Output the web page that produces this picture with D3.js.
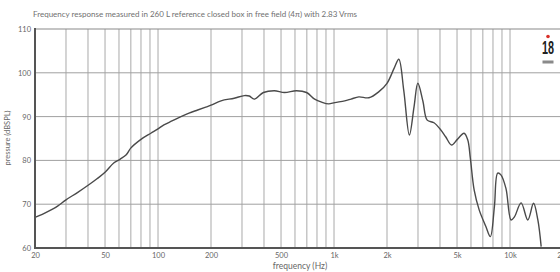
<!DOCTYPE html>
<html>
<head>
<meta charset="utf-8">
<script src="https://cdn.jsdelivr.net/npm/d3@7"></script>
<style>
  body { margin: 0; background: #fff; }
  svg { display: block; font-family: Lato, "Open Sans", sans-serif; }
</style>
</head>
<body>
<script>
var title = "Frequency response measured in 260 L reference closed box in free field (4\u03c0) with 2.83 Vrms";
var xLabel = "frequency (Hz)";
var yLabel = "pressure (dBSPL)";

// measured curve
var freqHz = [20, 22, 25, 27, 30, 35, 41, 45, 50, 56, 61, 66, 70, 80, 91, 100, 108, 120, 135, 150,
  168, 185, 200, 228, 271, 309, 330, 352, 397, 458, 523, 612, 698, 776, 850, 933, 1010, 1150, 1250,
  1384, 1578, 1800, 2000, 2194, 2334, 2490, 2680, 2850, 2994, 3200, 3384, 3698, 4034, 4308, 4658,
  5020, 5480, 5750, 5950, 6258, 6680, 7292, 7730, 8150, 8510, 8878, 9480, 10136, 10594, 11560,
  12620, 13600, 14394, 15030];
var splDb = [67.0, 67.7, 68.8, 69.6, 71.0, 72.7, 74.6, 75.8, 77.3, 79.4, 80.3, 81.3, 82.8, 84.8,
  86.2, 87.2, 88.1, 89.0, 90.0, 90.8, 91.5, 92.1, 92.6, 93.6, 94.2, 94.8, 94.7, 94.0, 95.5, 95.9,
  95.5, 95.9, 95.5, 94.0, 93.3, 92.9, 93.2, 93.6, 94.0, 94.5, 94.3, 95.7, 97.6, 101.0, 103.1, 96.0,
  85.8, 92.3, 97.6, 93.5, 89.2, 88.6, 87.0, 85.4, 83.5, 84.8, 86.2, 84.7, 80.5, 73.2, 68.7, 64.9,
  62.6, 69.4, 77.1, 76.7, 73.6, 66.4, 67.1, 70.3, 66.4, 70.2, 66.4, 60.3];

var xTicks = [20, 50, 100, 200, 500, 1000, 2000, 5000, 10000, 20000];
var xTickLabels = ["20", "50", "100", "200", "500", "1k", "2k", "5k", "10k", "20k"];
var yTicks = [60, 70, 80, 90, 100, 110];
var yGrid = [70, 80, 90, 100];

var w = 560;
var h = 272;
var plotLeft = 35;
var plotTop = 29;
var plotBottom = 248;
var plotRight = 563;

var svg = d3.select("body")
.append("svg")
.attr("width", w)
.attr("height", h);

var x = d3.scaleLog().domain([20, 20000]).range([plotLeft, plotRight]);
var y = d3.scaleLinear().domain([60, 110]).range([plotBottom, plotTop]);

// title
svg.append("text")
.attr("x", 33)
.attr("y", 16.5)
.attr("font-size", 7.3)
.attr("textLength", 324)
.attr("lengthAdjust", "spacingAndGlyphs")
.attr("fill", "#707070")
.text(title);

// vertical grid (every 1-2-3... of each decade)
svg.append("g")
.selectAll("line")
.data(x.ticks().filter(function(d) { return d > 20; }))
.enter()
.append("line")
.attr("x1", function(d) { return x(d); })
.attr("x2", function(d) { return x(d); })
.attr("y1", plotTop)
.attr("y2", plotBottom)
.attr("stroke", "#c6c6c6")
.attr("stroke-width", 1.5);

// horizontal grid
svg.append("g")
.selectAll("line")
.data(yGrid)
.enter()
.append("line")
.attr("x1", plotLeft)
.attr("x2", w)
.attr("y1", function(d) { return y(d); })
.attr("y2", function(d) { return y(d); })
.attr("stroke", "#a0a0a0")
.attr("stroke-width", 1);

// top border
svg.append("line")
.attr("x1", plotLeft).attr("x2", w)
.attr("y1", plotTop).attr("y2", plotTop)
.attr("stroke", "#8a8a8a")
.attr("stroke-width", 1.2);

// curve
var line = d3.line()
.x(function(d, i) { return x(freqHz[i]); })
.y(function(d) { return y(d); })
.curve(d3.curveCatmullRom.alpha(0.5));

svg.append("path")
.datum(splDb)
.attr("d", line)
.attr("fill", "none")
.attr("stroke", "#4a4a4a")
.attr("stroke-width", 1.4)
.attr("stroke-linejoin", "round");

// axes
var xAxis = d3.axisBottom(x)
.tickValues(xTicks)
.tickFormat(function(d, i) { return xTickLabels[i]; })
.tickSize(0)
.tickPadding(5);

var gx = svg.append("g")
.attr("transform", "translate(0," + plotBottom + ")")
.call(xAxis);
gx.select(".domain").remove();
gx.selectAll("text")
.attr("font-family", "Lato, sans-serif")
.attr("font-size", 7.5)
.attr("fill", "#666");

var yAxis = d3.axisLeft(y)
.tickValues(yTicks)
.tickSize(0)
.tickPadding(4);

var gy = svg.append("g")
.attr("transform", "translate(" + plotLeft + ",0)")
.call(yAxis);
gy.select(".domain").remove();
gy.selectAll("text")
.attr("font-family", "Lato, sans-serif")
.attr("font-size", 7.5)
.attr("fill", "#666");

// dark axis lines
svg.append("line")
.attr("x1", plotLeft).attr("x2", plotLeft)
.attr("y1", plotTop - 1).attr("y2", plotBottom + 1)
.attr("stroke", "#555")
.attr("stroke-width", 2);
svg.append("line")
.attr("x1", plotLeft - 1).attr("x2", w)
.attr("y1", plotBottom).attr("y2", plotBottom)
.attr("stroke", "#555")
.attr("stroke-width", 2);

// axis titles
svg.append("text")
.attr("x", 300)
.attr("y", 269)
.attr("text-anchor", "middle")
.attr("font-size", 8.5)
.attr("fill", "#666")
.text(xLabel);

svg.append("text")
.attr("transform", "translate(10,138) rotate(-90)")
.attr("text-anchor", "middle")
.attr("font-size", 7.5)
.attr("fill", "#666")
.text(yLabel);

// brand mark
svg.append("circle")
.attr("cx", 548).attr("cy", 36.5).attr("r", 1.8)
.attr("fill", "#d9302a");
svg.append("text")
.attr("transform", "translate(548,53.5) scale(0.6,1)")
.attr("text-anchor", "middle")
.attr("font-size", 18)
.attr("font-weight", "bold")
.attr("font-family", "Liberation Sans Narrow, Liberation Sans, sans-serif")
.attr("fill", "#222")
.text("18");
svg.append("rect")
.attr("x", 542.5).attr("y", 60.5).attr("width", 11).attr("height", 3)
.attr("fill", "#8a8a8a");
</script>
</body>
</html>
